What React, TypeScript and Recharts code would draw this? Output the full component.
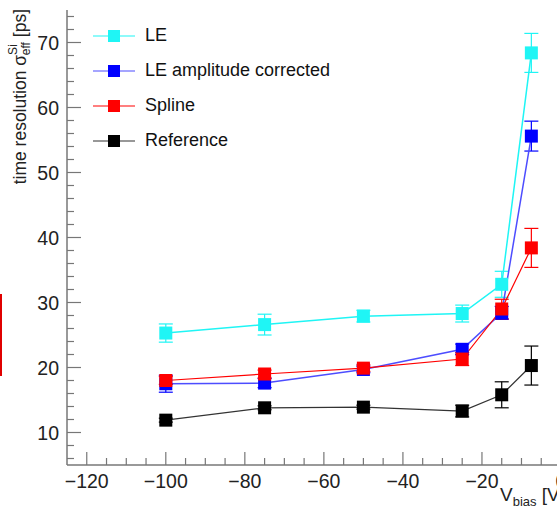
import React from 'react';
import {
  ComposedChart,
  Line,
  XAxis,
  YAxis,
  ErrorBar,
  Legend,
  Label,
} from 'recharts';

const VBIAS = [-100, -75, -50, -25, -15, -7.5];

const LE = [25.3, 26.6, 27.9, 28.3, 32.8, 68.4];
const LE_ERR = [1.4, 1.6, 0.9, 1.3, 2.0, 3.0];

const AMP = [17.5, 17.6, 19.7, 22.8, 28.4, 55.6];
const AMP_ERR = [1.3, 0.7, 0.5, 0.8, 1.0, 2.3];

const SPLINE = [18.0, 19.0, 19.9, 21.3, 29.0, 38.4];
const SPLINE_ERR = [0.6, 0.6, 0.5, 1.0, 1.5, 3.0];

const REF = [11.9, 13.8, 13.9, 13.3, 15.8, 20.3];
const REF_ERR = [0.3, 0.3, 0.3, 0.9, 2.0, 3.0];

const X_TICKS = [
  -120, -115, -110, -105, -100, -95, -90, -85, -80, -75, -70, -65, -60, -55,
  -50, -45, -40, -35, -30, -25, -20, -15, -10, -5, 0,
];
const Y_TICKS = [
  6, 8, 10, 12, 14, 16, 18, 20, 22, 24, 26, 28, 30, 32, 34, 36, 38, 40, 42, 44,
  46, 48, 50, 52, 54, 56, 58, 60, 62, 64, 66, 68, 70, 72, 74,
];

const SERIES = [
  { key: 'le', name: 'LE', color: '#1ff5f5', width: 1.5 },
  { key: 'amp', name: 'LE amplitude corrected', color: '#0000ff', line: '#4d4dff', width: 1.5 },
  { key: 'spline', name: 'Spline', color: '#ff0000', width: 1.2 },
  { key: 'ref', name: 'Reference', color: '#000000', line: '#333333', width: 1.2 },
];

const data = VBIAS.map((v, i) => ({
  v,
  le: LE[i],
  leErr: LE_ERR[i],
  amp: AMP[i],
  ampErr: AMP_ERR[i],
  spline: SPLINE[i],
  splineErr: SPLINE_ERR[i],
  ref: REF[i],
  refErr: REF_ERR[i],
}));

const FONT = '"Liberation Sans", Arial, sans-serif';
const AXIS = '#777777';
const MARGIN = 8;

const fmt = (v: number) => (v < 0 ? '\u2212' + Math.abs(v) : String(v));

function YTick(props: any) {
  const { x, y, payload } = props;
  const v = payload.value;
  const major = v % 10 === 0;
  const ax = x + MARGIN;
  return (
    <g>
      <line x1={ax} x2={ax + (major ? 14 : 7)} y1={y} y2={y} stroke={AXIS} strokeWidth={1.2} />
      {major && (
        <text x={x} y={y} dy="0.36em" textAnchor="end" fontSize={19.5} fontFamily={FONT} fill="#222">
          {v}
        </text>
      )}
    </g>
  );
}

function XTick(props: any) {
  const { x, y, payload } = props;
  const v = payload.value;
  const major = v % 20 === 0;
  const ay = y - MARGIN;
  return (
    <g>
      <line x1={x} x2={x} y1={ay} y2={ay - (major ? 13 : 7)} stroke={AXIS} strokeWidth={1.2} />
      {major && (
        <text x={x} y={y} dy="0.75em" textAnchor="middle" fontSize={19.5} fontFamily={FONT} fill="#222">
          {fmt(v)}
        </text>
      )}
    </g>
  );
}

function SquareDot(props: any) {
  const { cx, cy, fill } = props;
  if (cx == null || cy == null) return null;
  return <rect x={cx - 6.5} y={cy - 6.5} width={13} height={13} fill={fill} />;
}

function LegendBox() {
  return (
    <div style={{ fontFamily: FONT, fontSize: 18, color: '#111' }}>
      {SERIES.map((s) => (
        <div key={s.key} style={{ display: 'flex', alignItems: 'center', height: 35 }}>
          <svg width={44} height={14} style={{ marginRight: 8 }}>
            <line x1={0} x2={42} y1={7} y2={7} stroke={s.line ?? s.color} strokeWidth={1.2} />
            <rect x={15} y={1} width={12} height={12} fill={s.color} />
          </svg>
          <span>{s.name}</span>
        </div>
      ))}
    </div>
  );
}

function YLabel(props: any) {
  const { viewBox } = props;
  const cx = 20;
  const top = viewBox.y - 1;
  return (
    <text
      transform={`translate(${cx}, ${top}) rotate(-90)`}
      textAnchor="end"
      dominantBaseline="central"
      fontSize={17.5}
      fontFamily={FONT}
      fill="#222"
    >
      time resolution σ
      <tspan fontSize={12} dy={-7}>Si</tspan>
      <tspan fontSize={12} dx={-11} dy={13}>eff</tspan>
      <tspan dy={-6}> [ps]</tspan>
    </text>
  );
}

function XLabel(props: any) {
  const { viewBox } = props;
  return (
    <text x={viewBox.x + viewBox.width - 61} y={501} fontSize={19} fontFamily={FONT} fill="#222">
      V<tspan fontSize={13} dy={5}>bias</tspan>
      <tspan dy={-5}> [V]</tspan>
    </text>
  );
}

export default function App() {
  return (
    <div
      style={{
        position: 'absolute',
        left: 0,
        top: 0,
        width: 557,
        height: 508,
        overflow: 'hidden',
        background: '#fff',
      }}
    >
      <div style={{ position: 'absolute', left: 0, top: 294, width: 2, height: 82, background: '#e00000' }} />
      <ComposedChart width={620} height={508} data={data} margin={{ top: 10, right: 59, bottom: 0, left: 0 }}>
        <XAxis
          xAxisId="top"
          orientation="top"
          type="number"
          dataKey="v"
          domain={[-125, 0]}
          tick={false}
          tickLine={false}
          height={0}
          axisLine={{ stroke: AXIS, strokeWidth: 1.5 }}
        />
        <XAxis
          type="number"
          dataKey="v"
          domain={[-125, 0]}
          allowDataOverflow
          ticks={X_TICKS}
          interval={0}
          tick={<XTick />}
          tickLine={false}
          tickSize={0}
          tickMargin={MARGIN}
          height={43}
          axisLine={{ stroke: AXIS, strokeWidth: 1.5 }}
        >
          <Label content={<XLabel />} />
        </XAxis>
        <YAxis
          type="number"
          domain={[5, 75]}
          allowDataOverflow
          ticks={Y_TICKS}
          interval={0}
          tick={<YTick />}
          tickLine={false}
          tickSize={0}
          tickMargin={MARGIN}
          width={67}
          axisLine={{ stroke: AXIS, strokeWidth: 1.5 }}
        >
          <Label content={<YLabel />} />
        </YAxis>
        <Legend
          content={<LegendBox />}
          layout="horizontal"
          verticalAlign="middle"
          align="center"
          wrapperStyle={{ position: 'absolute', left: 93, top: 18, width: 300, height: 140 }}
        />
        {SERIES.map((s) => (
          <Line
            key={s.key}
            type="linear"
            dataKey={s.key}
            name={s.name}
            stroke={s.line ?? s.color}
            strokeWidth={s.width}
            fill={s.color}
            dot={<SquareDot fill={s.color} />}
            activeDot={false}
            isAnimationActive={false}
          >
            <ErrorBar dataKey={s.key + 'Err'} width={7} strokeWidth={1.2} stroke={s.color} direction="y" />
          </Line>
        ))}
      </ComposedChart>
    </div>
  );
}
